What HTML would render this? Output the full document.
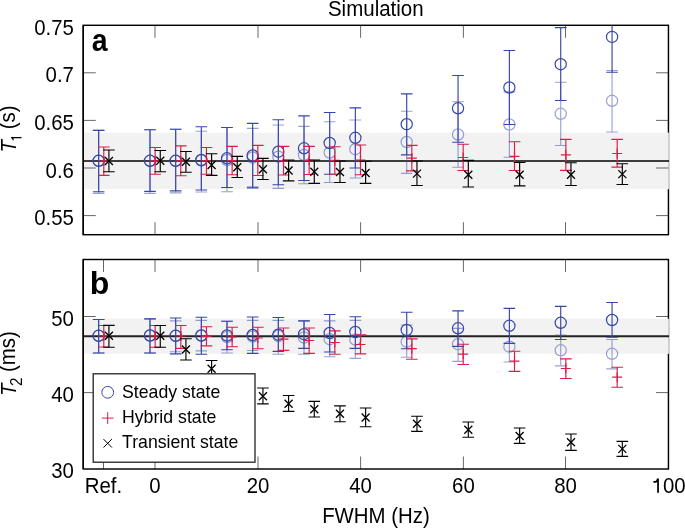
<!DOCTYPE html>
<html><head><meta charset="utf-8"><title>Simulation</title>
<style>
html,body{margin:0;padding:0;background:#fff;}
body{width:685px;height:528px;overflow:hidden;}
svg{display:block;will-change:transform;font-family:"Liberation Sans",sans-serif;}
</style></head>
<body>
<svg width="685" height="528" viewBox="0 0 685 528">
<rect width="685" height="528" fill="#fff"/>
<defs><clipPath id="ca"><rect x="83.25" y="25.3" width="585.2" height="209.39999999999998"/></clipPath><clipPath id="cb"><rect x="83.25" y="259.5" width="585.2" height="209.5"/></clipPath></defs>
<rect x="83.25" y="25.3" width="585.2" height="209.39999999999998" fill="none" stroke="#000" stroke-width="1.45"/>
<rect x="83.25" y="132.6" width="585.6" height="56.599999999999994" fill="#f2f2f2"/>
<path d="M83.25 161.0H669.0500000000001" stroke="#000" stroke-width="1.6"/>
<path d="M155 25.3v12.5M155 234.7v-12.5M258 25.3v12.5M258 234.7v-12.5M360.6 25.3v12.5M360.6 234.7v-12.5M463.4 25.3v12.5M463.4 234.7v-12.5M565.5 25.3v12.5M565.5 234.7v-12.5M83.25 72.8h12.5M668.45 72.8h-12.5M83.25 120.4h12.5M668.45 120.4h-12.5M83.25 168h12.5M668.45 168h-12.5M83.25 215.6h12.5M668.45 215.6h-12.5" stroke="#000" stroke-width="0.6" fill="none"/>
<g clip-path="url(#ca)"><g opacity="0.5"><path d="M98.66 130.3V193.3M92.86 130.3H104.46M92.86 193.3H104.46" stroke="#3646a8" stroke-width="1.15" fill="none"/><circle cx="98.66" cy="160.8" r="5.6" stroke="#3646a8" stroke-width="1.2" fill="none"/></g><g opacity="0.5"><path d="M150 129.7V193.3M144.2 129.7H155.8M144.2 193.3H155.8" stroke="#3646a8" stroke-width="1.15" fill="none"/><circle cx="150" cy="160.8" r="5.6" stroke="#3646a8" stroke-width="1.2" fill="none"/></g><g opacity="0.5"><path d="M175.67 129.2V192.8M169.87 129.2H181.47M169.87 192.8H181.47" stroke="#3646a8" stroke-width="1.15" fill="none"/><circle cx="175.67" cy="160.8" r="5.6" stroke="#3646a8" stroke-width="1.2" fill="none"/></g><g opacity="0.5"><path d="M201.34 131.2V192M195.54 131.2H207.14M195.54 192H207.14" stroke="#3646a8" stroke-width="1.15" fill="none"/><circle cx="201.34" cy="160.5" r="5.6" stroke="#3646a8" stroke-width="1.2" fill="none"/></g><g opacity="0.5"><path d="M227.01 127.5V191.7M221.21 127.5H232.81M221.21 191.7H232.81" stroke="#3646a8" stroke-width="1.15" fill="none"/><circle cx="227.01" cy="160" r="5.6" stroke="#3646a8" stroke-width="1.2" fill="none"/></g><g opacity="0.5"><path d="M252.68 128.3V186.7M246.88 128.3H258.48M246.88 186.7H258.48" stroke="#3646a8" stroke-width="1.15" fill="none"/><circle cx="252.68" cy="157.5" r="5.6" stroke="#3646a8" stroke-width="1.2" fill="none"/></g><g opacity="0.5"><path d="M278.35 125V188.3M272.55 125H284.15M272.55 188.3H284.15" stroke="#3646a8" stroke-width="1.15" fill="none"/><circle cx="278.35" cy="156.7" r="5.6" stroke="#3646a8" stroke-width="1.2" fill="none"/></g><g opacity="0.5"><path d="M304.02 126.3V183.7M298.22 126.3H309.82M298.22 183.7H309.82" stroke="#3646a8" stroke-width="1.15" fill="none"/><circle cx="304.02" cy="155" r="5.6" stroke="#3646a8" stroke-width="1.2" fill="none"/></g><g opacity="0.5"><path d="M329.69 121.7V182.5M323.89 121.7H335.49M323.89 182.5H335.49" stroke="#3646a8" stroke-width="1.15" fill="none"/><circle cx="329.69" cy="152.5" r="5.6" stroke="#3646a8" stroke-width="1.2" fill="none"/></g><g opacity="0.5"><path d="M355.36 120V178M349.56 120H361.16M349.56 178H361.16" stroke="#3646a8" stroke-width="1.15" fill="none"/><circle cx="355.36" cy="149.2" r="5.6" stroke="#3646a8" stroke-width="1.2" fill="none"/></g><g opacity="0.5"><path d="M406.7 111.2V173.4M400.9 111.2H412.5M400.9 173.4H412.5" stroke="#3646a8" stroke-width="1.15" fill="none"/><circle cx="406.7" cy="142" r="5.6" stroke="#3646a8" stroke-width="1.2" fill="none"/></g><g opacity="0.5"><path d="M458.04 101.7V167.2M452.24 101.7H463.84M452.24 167.2H463.84" stroke="#3646a8" stroke-width="1.15" fill="none"/><circle cx="458.04" cy="134.5" r="5.6" stroke="#3646a8" stroke-width="1.2" fill="none"/></g><g opacity="0.5"><path d="M509.38 91.8V157.2M503.58 91.8H515.18M503.58 157.2H515.18" stroke="#3646a8" stroke-width="1.15" fill="none"/><circle cx="509.38" cy="124.5" r="5.6" stroke="#3646a8" stroke-width="1.2" fill="none"/></g><g opacity="0.5"><path d="M560.72 82.2V145.5M554.92 82.2H566.52M554.92 145.5H566.52" stroke="#3646a8" stroke-width="1.15" fill="none"/><circle cx="560.72" cy="113.8" r="5.6" stroke="#3646a8" stroke-width="1.2" fill="none"/></g><g opacity="0.5"><path d="M612.06 70.5V132M606.26 70.5H617.86M606.26 132H617.86" stroke="#3646a8" stroke-width="1.15" fill="none"/><circle cx="612.06" cy="100.8" r="5.6" stroke="#3646a8" stroke-width="1.2" fill="none"/></g><path d="M98.66 130.3V191.7M92.86 130.3H104.46M92.86 191.7H104.46" stroke="#3646a8" stroke-width="1.15" fill="none"/><circle cx="98.66" cy="160.8" r="5.6" stroke="#3646a8" stroke-width="1.2" fill="none"/><path d="M150 129.7V191.3M144.2 129.7H155.8M144.2 191.3H155.8" stroke="#3646a8" stroke-width="1.15" fill="none"/><circle cx="150" cy="160.8" r="5.6" stroke="#3646a8" stroke-width="1.2" fill="none"/><path d="M175.67 129.2V190.8M169.87 129.2H181.47M169.87 190.8H181.47" stroke="#3646a8" stroke-width="1.15" fill="none"/><circle cx="175.67" cy="160.8" r="5.6" stroke="#3646a8" stroke-width="1.2" fill="none"/><path d="M201.34 126.7V190M195.54 126.7H207.14M195.54 190H207.14" stroke="#3646a8" stroke-width="1.15" fill="none"/><circle cx="201.34" cy="160" r="5.6" stroke="#3646a8" stroke-width="1.2" fill="none"/><path d="M227.01 127.5V187.5M221.21 127.5H232.81M221.21 187.5H232.81" stroke="#3646a8" stroke-width="1.15" fill="none"/><circle cx="227.01" cy="158.3" r="5.6" stroke="#3646a8" stroke-width="1.2" fill="none"/><path d="M252.68 123.3V187.8M246.88 123.3H258.48M246.88 187.8H258.48" stroke="#3646a8" stroke-width="1.15" fill="none"/><circle cx="252.68" cy="155.5" r="5.6" stroke="#3646a8" stroke-width="1.2" fill="none"/><path d="M278.35 119.7V184.7M272.55 119.7H284.15M272.55 184.7H284.15" stroke="#3646a8" stroke-width="1.15" fill="none"/><circle cx="278.35" cy="151.7" r="5.6" stroke="#3646a8" stroke-width="1.2" fill="none"/><path d="M304.02 115.8V180.5M298.22 115.8H309.82M298.22 180.5H309.82" stroke="#3646a8" stroke-width="1.15" fill="none"/><circle cx="304.02" cy="148.3" r="5.6" stroke="#3646a8" stroke-width="1.2" fill="none"/><path d="M329.69 112.5V174.2M323.89 112.5H335.49M323.89 174.2H335.49" stroke="#3646a8" stroke-width="1.15" fill="none"/><circle cx="329.69" cy="143" r="5.6" stroke="#3646a8" stroke-width="1.2" fill="none"/><path d="M355.36 107.8V168M349.56 107.8H361.16M349.56 168H361.16" stroke="#3646a8" stroke-width="1.15" fill="none"/><circle cx="355.36" cy="137.8" r="5.6" stroke="#3646a8" stroke-width="1.2" fill="none"/><path d="M406.7 93.8V154.9M400.9 93.8H412.5M400.9 154.9H412.5" stroke="#3646a8" stroke-width="1.15" fill="none"/><circle cx="406.7" cy="124.2" r="5.6" stroke="#3646a8" stroke-width="1.2" fill="none"/><path d="M458.04 75.5V142.2M452.24 75.5H463.84M452.24 142.2H463.84" stroke="#3646a8" stroke-width="1.15" fill="none"/><circle cx="458.04" cy="108.3" r="5.6" stroke="#3646a8" stroke-width="1.2" fill="none"/><path d="M509.38 50.5V124.5M503.58 50.5H515.18M503.58 124.5H515.18" stroke="#3646a8" stroke-width="1.15" fill="none"/><circle cx="509.38" cy="87.5" r="5.6" stroke="#3646a8" stroke-width="1.2" fill="none"/><path d="M560.72 27.6V100.5M554.92 27.6H566.52M554.92 100.5H566.52" stroke="#3646a8" stroke-width="1.15" fill="none"/><circle cx="560.72" cy="64.2" r="5.6" stroke="#3646a8" stroke-width="1.2" fill="none"/><path d="M612.06 1.6V72.2M606.26 1.6H617.86M606.26 72.2H617.86" stroke="#3646a8" stroke-width="1.15" fill="none"/><circle cx="612.06" cy="36.9" r="5.6" stroke="#3646a8" stroke-width="1.2" fill="none"/><path d="M103.79 147V175.3M97.99 147H109.59M97.99 175.3H109.59" stroke="#d91e4a" stroke-width="1.15" fill="none"/><path d="M98.79 161H108.79M103.79 156V166" stroke="#d91e4a" stroke-width="1.2" fill="none"/><path d="M155.13 147.5V174.2M149.33 147.5H160.93M149.33 174.2H160.93" stroke="#d91e4a" stroke-width="1.15" fill="none"/><path d="M150.13 160.8H160.13M155.13 155.8V165.8" stroke="#d91e4a" stroke-width="1.2" fill="none"/><path d="M180.8 145.8V175.7M175 145.8H186.6M175 175.7H186.6" stroke="#d91e4a" stroke-width="1.15" fill="none"/><path d="M175.8 160.8H185.8M180.8 155.8V165.8" stroke="#d91e4a" stroke-width="1.2" fill="none"/><path d="M206.47 147.5V174.2M200.67 147.5H212.27M200.67 174.2H212.27" stroke="#d91e4a" stroke-width="1.15" fill="none"/><path d="M201.47 160.8H211.47M206.47 155.8V165.8" stroke="#d91e4a" stroke-width="1.2" fill="none"/><path d="M232.14 146.3V174.7M226.34 146.3H237.94M226.34 174.7H237.94" stroke="#d91e4a" stroke-width="1.15" fill="none"/><path d="M227.14 160.5H237.14M232.14 155.5V165.5" stroke="#d91e4a" stroke-width="1.2" fill="none"/><path d="M257.81 145.3V175.5M252.01 145.3H263.61M252.01 175.5H263.61" stroke="#d91e4a" stroke-width="1.15" fill="none"/><path d="M252.81 160.5H262.81M257.81 155.5V165.5" stroke="#d91e4a" stroke-width="1.2" fill="none"/><path d="M283.48 146.3V175M277.68 146.3H289.28M277.68 175H289.28" stroke="#d91e4a" stroke-width="1.15" fill="none"/><path d="M278.48 160.7H288.48M283.48 155.7V165.7" stroke="#d91e4a" stroke-width="1.2" fill="none"/><path d="M309.15 146.3V174.5M303.35 146.3H314.95M303.35 174.5H314.95" stroke="#d91e4a" stroke-width="1.15" fill="none"/><path d="M304.15 160.4H314.15M309.15 155.4V165.4" stroke="#d91e4a" stroke-width="1.2" fill="none"/><path d="M334.82 146.7V174.2M329.02 146.7H340.62M329.02 174.2H340.62" stroke="#d91e4a" stroke-width="1.15" fill="none"/><path d="M329.82 160.4H339.82M334.82 155.4V165.4" stroke="#d91e4a" stroke-width="1.2" fill="none"/><path d="M360.49 145V174.7M354.69 145H366.29M354.69 174.7H366.29" stroke="#d91e4a" stroke-width="1.15" fill="none"/><path d="M355.49 160H365.49M360.49 155V165" stroke="#d91e4a" stroke-width="1.2" fill="none"/><path d="M411.83 145.3V170.9M406.03 145.3H417.63M406.03 170.9H417.63" stroke="#d91e4a" stroke-width="1.15" fill="none"/><path d="M406.83 158.2H416.83M411.83 153.2V163.2" stroke="#d91e4a" stroke-width="1.2" fill="none"/><path d="M463.17 144.2V170.5M457.37 144.2H468.97M457.37 170.5H468.97" stroke="#d91e4a" stroke-width="1.15" fill="none"/><path d="M458.17 157.5H468.17M463.17 152.5V162.5" stroke="#d91e4a" stroke-width="1.2" fill="none"/><path d="M514.51 141.7V170.5M508.71 141.7H520.31M508.71 170.5H520.31" stroke="#d91e4a" stroke-width="1.15" fill="none"/><path d="M509.51 156.3H519.51M514.51 151.3V161.3" stroke="#d91e4a" stroke-width="1.2" fill="none"/><path d="M565.85 139.3V170.4M560.05 139.3H571.65M560.05 170.4H571.65" stroke="#d91e4a" stroke-width="1.15" fill="none"/><path d="M560.85 154.8H570.85M565.85 149.8V159.8" stroke="#d91e4a" stroke-width="1.2" fill="none"/><path d="M617.19 139.3V167.1M611.39 139.3H622.99M611.39 167.1H622.99" stroke="#d91e4a" stroke-width="1.15" fill="none"/><path d="M612.19 153.5H622.19M617.19 148.5V158.5" stroke="#d91e4a" stroke-width="1.2" fill="none"/><path d="M108.92 150V171.7M103.12 150H114.72M103.12 171.7H114.72" stroke="#000" stroke-width="1.15" fill="none"/><path d="M104.92 156.95L112.92 164.95M104.92 164.95L112.92 156.95" stroke="#000" stroke-width="1.3" fill="none"/><path d="M160.26 150.5V171.7M154.46 150.5H166.06M154.46 171.7H166.06" stroke="#000" stroke-width="1.15" fill="none"/><path d="M156.26 156.8L164.26 164.8M156.26 164.8L164.26 156.8" stroke="#000" stroke-width="1.3" fill="none"/><path d="M185.93 151.5V172.2M180.13 151.5H191.73M180.13 172.2H191.73" stroke="#000" stroke-width="1.15" fill="none"/><path d="M181.93 157.8L189.93 165.8M181.93 165.8L189.93 157.8" stroke="#000" stroke-width="1.3" fill="none"/><path d="M211.6 153.7V175.3M205.8 153.7H217.4M205.8 175.3H217.4" stroke="#000" stroke-width="1.15" fill="none"/><path d="M207.6 161L215.6 169M207.6 169L215.6 161" stroke="#000" stroke-width="1.3" fill="none"/><path d="M237.27 156.3V177.5M231.47 156.3H243.07M231.47 177.5H243.07" stroke="#000" stroke-width="1.15" fill="none"/><path d="M233.27 163.2L241.27 171.2M233.27 171.2L241.27 163.2" stroke="#000" stroke-width="1.3" fill="none"/><path d="M262.94 158.3V179.5M257.14 158.3H268.74M257.14 179.5H268.74" stroke="#000" stroke-width="1.15" fill="none"/><path d="M258.94 165.2L266.94 173.2M258.94 173.2L266.94 165.2" stroke="#000" stroke-width="1.3" fill="none"/><path d="M288.61 160V180.8M282.81 160H294.41M282.81 180.8H294.41" stroke="#000" stroke-width="1.15" fill="none"/><path d="M284.61 166.5L292.61 174.5M284.61 174.5L292.61 166.5" stroke="#000" stroke-width="1.3" fill="none"/><path d="M314.28 160V183.3M308.48 160H320.08M308.48 183.3H320.08" stroke="#000" stroke-width="1.15" fill="none"/><path d="M310.28 167.7L318.28 175.7M310.28 175.7L318.28 167.7" stroke="#000" stroke-width="1.3" fill="none"/><path d="M339.95 161V182.5M334.15 161H345.75M334.15 182.5H345.75" stroke="#000" stroke-width="1.15" fill="none"/><path d="M335.95 168L343.95 176M335.95 176L343.95 168" stroke="#000" stroke-width="1.3" fill="none"/><path d="M365.62 161.2V183.3M359.82 161.2H371.42M359.82 183.3H371.42" stroke="#000" stroke-width="1.15" fill="none"/><path d="M361.62 169L369.62 177M361.62 177L369.62 169" stroke="#000" stroke-width="1.3" fill="none"/><path d="M416.96 161V185.5M411.16 161H422.76M411.16 185.5H422.76" stroke="#000" stroke-width="1.15" fill="none"/><path d="M412.96 169.6L420.96 177.6M412.96 177.6L420.96 169.6" stroke="#000" stroke-width="1.3" fill="none"/><path d="M468.3 160.3V187M462.5 160.3H474.1M462.5 187H474.1" stroke="#000" stroke-width="1.15" fill="none"/><path d="M464.3 170.7L472.3 178.7M464.3 178.7L472.3 170.7" stroke="#000" stroke-width="1.3" fill="none"/><path d="M519.64 162.5V185.8M513.84 162.5H525.44M513.84 185.8H525.44" stroke="#000" stroke-width="1.15" fill="none"/><path d="M515.64 170.7L523.64 178.7M515.64 178.7L523.64 170.7" stroke="#000" stroke-width="1.3" fill="none"/><path d="M570.98 162.7V185.5M565.18 162.7H576.78M565.18 185.5H576.78" stroke="#000" stroke-width="1.15" fill="none"/><path d="M566.98 170.7L574.98 178.7M566.98 178.7L574.98 170.7" stroke="#000" stroke-width="1.3" fill="none"/><path d="M622.32 163.7V184.5M616.52 163.7H628.12M616.52 184.5H628.12" stroke="#000" stroke-width="1.15" fill="none"/><path d="M618.32 170.1L626.32 178.1M618.32 178.1L626.32 170.1" stroke="#000" stroke-width="1.3" fill="none"/></g>
<path d="M83.25 25.3V234.7" stroke="#000" stroke-width="1.45"/>
<rect x="83.25" y="259.5" width="585.2" height="209.5" fill="none" stroke="#000" stroke-width="1.45"/>
<rect x="83.25" y="318.7" width="585.6" height="35.10000000000002" fill="#f2f2f2"/>
<path d="M83.25 336.25H669.0500000000001" stroke="#222" stroke-width="1.8"/>
<path d="M103.5 259.5v12.5M103.5 469v-12.5M155 259.5v12.5M155 469v-12.5M258 259.5v12.5M258 469v-12.5M360.6 259.5v12.5M360.6 469v-12.5M463.4 259.5v12.5M463.4 469v-12.5M565.5 259.5v12.5M565.5 469v-12.5M83.25 316.5h12.5M668.45 316.5h-12.5M83.25 392.6h12.5M668.45 392.6h-12.5" stroke="#000" stroke-width="0.6" fill="none"/>
<g clip-path="url(#cb)"><g opacity="0.5"><path d="M98.66 319.5V353M92.86 319.5H104.46M92.86 353H104.46" stroke="#3646a8" stroke-width="1.15" fill="none"/><circle cx="98.66" cy="335.8" r="5.6" stroke="#3646a8" stroke-width="1.2" fill="none"/></g><g opacity="0.5"><path d="M150 318.8V353M144.2 318.8H155.8M144.2 353H155.8" stroke="#3646a8" stroke-width="1.15" fill="none"/><circle cx="150" cy="335.5" r="5.6" stroke="#3646a8" stroke-width="1.2" fill="none"/></g><g opacity="0.5"><path d="M175.67 320.8V351.7M169.87 320.8H181.47M169.87 351.7H181.47" stroke="#3646a8" stroke-width="1.15" fill="none"/><circle cx="175.67" cy="335.8" r="5.6" stroke="#3646a8" stroke-width="1.2" fill="none"/></g><g opacity="0.5"><path d="M201.34 320.3V350.8M195.54 320.3H207.14M195.54 350.8H207.14" stroke="#3646a8" stroke-width="1.15" fill="none"/><circle cx="201.34" cy="335.5" r="5.6" stroke="#3646a8" stroke-width="1.2" fill="none"/></g><g opacity="0.5"><path d="M227.01 321.2V353M221.21 321.2H232.81M221.21 353H232.81" stroke="#3646a8" stroke-width="1.15" fill="none"/><circle cx="227.01" cy="337.1" r="5.6" stroke="#3646a8" stroke-width="1.2" fill="none"/></g><g opacity="0.5"><path d="M252.68 320.3V350.5M246.88 320.3H258.48M246.88 350.5H258.48" stroke="#3646a8" stroke-width="1.15" fill="none"/><circle cx="252.68" cy="336.5" r="5.6" stroke="#3646a8" stroke-width="1.2" fill="none"/></g><g opacity="0.5"><path d="M278.35 320.3V354.2M272.55 320.3H284.15M272.55 354.2H284.15" stroke="#3646a8" stroke-width="1.15" fill="none"/><circle cx="278.35" cy="336" r="5.6" stroke="#3646a8" stroke-width="1.2" fill="none"/></g><g opacity="0.5"><path d="M304.02 320.8V354.2M298.22 320.8H309.82M298.22 354.2H309.82" stroke="#3646a8" stroke-width="1.15" fill="none"/><circle cx="304.02" cy="337.5" r="5.6" stroke="#3646a8" stroke-width="1.2" fill="none"/></g><g opacity="0.5"><path d="M329.69 320.8V356.7M323.89 320.8H335.49M323.89 356.7H335.49" stroke="#3646a8" stroke-width="1.15" fill="none"/><circle cx="329.69" cy="339.2" r="5.6" stroke="#3646a8" stroke-width="1.2" fill="none"/></g><g opacity="0.5"><path d="M355.36 320.3V358.3M349.56 320.3H361.16M349.56 358.3H361.16" stroke="#3646a8" stroke-width="1.15" fill="none"/><circle cx="355.36" cy="339.5" r="5.6" stroke="#3646a8" stroke-width="1.2" fill="none"/></g><g opacity="0.5"><path d="M406.7 325V357.2M400.9 325H412.5M400.9 357.2H412.5" stroke="#3646a8" stroke-width="1.15" fill="none"/><circle cx="406.7" cy="341.7" r="5.6" stroke="#3646a8" stroke-width="1.2" fill="none"/></g><g opacity="0.5"><path d="M458.04 328.3V361.3M452.24 328.3H463.84M452.24 361.3H463.84" stroke="#3646a8" stroke-width="1.15" fill="none"/><circle cx="458.04" cy="344.2" r="5.6" stroke="#3646a8" stroke-width="1.2" fill="none"/></g><g opacity="0.5"><path d="M509.38 331.4V362M503.58 362H515.18" stroke="#3646a8" stroke-width="1.15" fill="none"/><circle cx="509.38" cy="346.7" r="5.6" stroke="#3646a8" stroke-width="1.2" fill="none"/></g><g opacity="0.5"><path d="M560.72 335V365.8M554.92 335H566.52M554.92 365.8H566.52" stroke="#3646a8" stroke-width="1.15" fill="none"/><circle cx="560.72" cy="350.3" r="5.6" stroke="#3646a8" stroke-width="1.2" fill="none"/></g><g opacity="0.5"><path d="M612.06 339.5V368.8M606.26 339.5H617.86M606.26 368.8H617.86" stroke="#3646a8" stroke-width="1.15" fill="none"/><circle cx="612.06" cy="353.8" r="5.6" stroke="#3646a8" stroke-width="1.2" fill="none"/></g><path d="M98.66 319.5V353M92.86 319.5H104.46M92.86 353H104.46" stroke="#3646a8" stroke-width="1.15" fill="none"/><circle cx="98.66" cy="335.8" r="5.6" stroke="#3646a8" stroke-width="1.2" fill="none"/><path d="M150 318.8V353M144.2 318.8H155.8M144.2 353H155.8" stroke="#3646a8" stroke-width="1.15" fill="none"/><circle cx="150" cy="335.5" r="5.6" stroke="#3646a8" stroke-width="1.2" fill="none"/><path d="M175.67 318V353.8M169.87 318H181.47M169.87 353.8H181.47" stroke="#3646a8" stroke-width="1.15" fill="none"/><circle cx="175.67" cy="335.8" r="5.6" stroke="#3646a8" stroke-width="1.2" fill="none"/><path d="M201.34 317.2V354.2M195.54 317.2H207.14M195.54 354.2H207.14" stroke="#3646a8" stroke-width="1.15" fill="none"/><circle cx="201.34" cy="335.5" r="5.6" stroke="#3646a8" stroke-width="1.2" fill="none"/><path d="M227.01 321.2V349.7M221.21 321.2H232.81M221.21 349.7H232.81" stroke="#3646a8" stroke-width="1.15" fill="none"/><circle cx="227.01" cy="335.5" r="5.6" stroke="#3646a8" stroke-width="1.2" fill="none"/><path d="M252.68 317V353.3M246.88 317H258.48M246.88 353.3H258.48" stroke="#3646a8" stroke-width="1.15" fill="none"/><circle cx="252.68" cy="335" r="5.6" stroke="#3646a8" stroke-width="1.2" fill="none"/><path d="M278.35 317.5V351.3M272.55 317.5H284.15M272.55 351.3H284.15" stroke="#3646a8" stroke-width="1.15" fill="none"/><circle cx="278.35" cy="334.7" r="5.6" stroke="#3646a8" stroke-width="1.2" fill="none"/><path d="M304.02 320.8V348.3M298.22 320.8H309.82M298.22 348.3H309.82" stroke="#3646a8" stroke-width="1.15" fill="none"/><circle cx="304.02" cy="334.2" r="5.6" stroke="#3646a8" stroke-width="1.2" fill="none"/><path d="M329.69 314.5V352M323.89 314.5H335.49M323.89 352H335.49" stroke="#3646a8" stroke-width="1.15" fill="none"/><circle cx="329.69" cy="333" r="5.6" stroke="#3646a8" stroke-width="1.2" fill="none"/><path d="M355.36 316.7V348.3M349.56 316.7H361.16M349.56 348.3H361.16" stroke="#3646a8" stroke-width="1.15" fill="none"/><circle cx="355.36" cy="332" r="5.6" stroke="#3646a8" stroke-width="1.2" fill="none"/><path d="M406.7 312.2V348.7M400.9 312.2H412.5M400.9 348.7H412.5" stroke="#3646a8" stroke-width="1.15" fill="none"/><circle cx="406.7" cy="330" r="5.6" stroke="#3646a8" stroke-width="1.2" fill="none"/><path d="M458.04 310.8V346.3M452.24 310.8H463.84M452.24 346.3H463.84" stroke="#3646a8" stroke-width="1.15" fill="none"/><circle cx="458.04" cy="328.3" r="5.6" stroke="#3646a8" stroke-width="1.2" fill="none"/><path d="M509.38 308.3V343.3M503.58 308.3H515.18M503.58 343.3H515.18" stroke="#3646a8" stroke-width="1.15" fill="none"/><circle cx="509.38" cy="325.8" r="5.6" stroke="#3646a8" stroke-width="1.2" fill="none"/><path d="M560.72 306.3V339.5M554.92 306.3H566.52M554.92 339.5H566.52" stroke="#3646a8" stroke-width="1.15" fill="none"/><circle cx="560.72" cy="322.8" r="5.6" stroke="#3646a8" stroke-width="1.2" fill="none"/><path d="M612.06 302.5V337.2M606.26 302.5H617.86M606.26 337.2H617.86" stroke="#3646a8" stroke-width="1.15" fill="none"/><circle cx="612.06" cy="320" r="5.6" stroke="#3646a8" stroke-width="1.2" fill="none"/><path d="M103.79 325.5V347M97.99 325.5H109.59M97.99 347H109.59" stroke="#d91e4a" stroke-width="1.15" fill="none"/><path d="M98.79 335.8H108.79M103.79 330.8V340.8" stroke="#d91e4a" stroke-width="1.2" fill="none"/><path d="M155.13 325.5V347.2M149.33 325.5H160.93M149.33 347.2H160.93" stroke="#d91e4a" stroke-width="1.15" fill="none"/><path d="M150.13 335.8H160.13M155.13 330.8V340.8" stroke="#d91e4a" stroke-width="1.2" fill="none"/><path d="M180.8 325.5V348.3M175 325.5H186.6M175 348.3H186.6" stroke="#d91e4a" stroke-width="1.15" fill="none"/><path d="M175.8 336H185.8M180.8 331V341" stroke="#d91e4a" stroke-width="1.2" fill="none"/><path d="M206.47 326.7V345.8M200.67 326.7H212.27M200.67 345.8H212.27" stroke="#d91e4a" stroke-width="1.15" fill="none"/><path d="M201.47 336.3H211.47M206.47 331.3V341.3" stroke="#d91e4a" stroke-width="1.2" fill="none"/><path d="M232.14 327.2V346.7M226.34 327.2H237.94M226.34 346.7H237.94" stroke="#d91e4a" stroke-width="1.15" fill="none"/><path d="M227.14 337H237.14M232.14 332V342" stroke="#d91e4a" stroke-width="1.2" fill="none"/><path d="M257.81 327.2V348.7M252.01 327.2H263.61M252.01 348.7H263.61" stroke="#d91e4a" stroke-width="1.15" fill="none"/><path d="M252.81 338H262.81M257.81 333V343" stroke="#d91e4a" stroke-width="1.2" fill="none"/><path d="M283.48 328V350.3M277.68 328H289.28M277.68 350.3H289.28" stroke="#d91e4a" stroke-width="1.15" fill="none"/><path d="M278.48 339.2H288.48M283.48 334.2V344.2" stroke="#d91e4a" stroke-width="1.2" fill="none"/><path d="M309.15 328V353.3M303.35 328H314.95M303.35 353.3H314.95" stroke="#d91e4a" stroke-width="1.15" fill="none"/><path d="M304.15 340.5H314.15M309.15 335.5V345.5" stroke="#d91e4a" stroke-width="1.2" fill="none"/><path d="M334.82 330.8V354.2M329.02 330.8H340.62M329.02 354.2H340.62" stroke="#d91e4a" stroke-width="1.15" fill="none"/><path d="M329.82 342.5H339.82M334.82 337.5V347.5" stroke="#d91e4a" stroke-width="1.2" fill="none"/><path d="M360.49 334.7V353.8M354.69 334.7H366.29M354.69 353.8H366.29" stroke="#d91e4a" stroke-width="1.15" fill="none"/><path d="M355.49 344.5H365.49M360.49 339.5V349.5" stroke="#d91e4a" stroke-width="1.2" fill="none"/><path d="M411.83 338.8V359.2M406.03 338.8H417.63M406.03 359.2H417.63" stroke="#d91e4a" stroke-width="1.15" fill="none"/><path d="M406.83 348.7H416.83M411.83 343.7V353.7" stroke="#d91e4a" stroke-width="1.2" fill="none"/><path d="M463.17 344.2V364.5M457.37 344.2H468.97M457.37 364.5H468.97" stroke="#d91e4a" stroke-width="1.15" fill="none"/><path d="M458.17 354.2H468.17M463.17 349.2V359.2" stroke="#d91e4a" stroke-width="1.2" fill="none"/><path d="M514.51 351.2V371.3M508.71 351.2H520.31M508.71 371.3H520.31" stroke="#d91e4a" stroke-width="1.15" fill="none"/><path d="M509.51 361.2H519.51M514.51 356.2V366.2" stroke="#d91e4a" stroke-width="1.2" fill="none"/><path d="M565.85 358.8V378.5M560.05 358.8H571.65M560.05 378.5H571.65" stroke="#d91e4a" stroke-width="1.15" fill="none"/><path d="M560.85 368.5H570.85M565.85 363.5V373.5" stroke="#d91e4a" stroke-width="1.2" fill="none"/><path d="M617.19 367.2V387.2M611.39 367.2H622.99M611.39 387.2H622.99" stroke="#d91e4a" stroke-width="1.15" fill="none"/><path d="M612.19 377.2H622.19M617.19 372.2V382.2" stroke="#d91e4a" stroke-width="1.2" fill="none"/><path d="M108.92 325.3V347.2M103.12 325.3H114.72M103.12 347.2H114.72" stroke="#000" stroke-width="1.15" fill="none"/><path d="M104.92 331.8L112.92 339.8M104.92 339.8L112.92 331.8" stroke="#000" stroke-width="1.3" fill="none"/><path d="M160.26 325.5V347.2M154.46 325.5H166.06M154.46 347.2H166.06" stroke="#000" stroke-width="1.15" fill="none"/><path d="M156.26 331.8L164.26 339.8M156.26 339.8L164.26 331.8" stroke="#000" stroke-width="1.3" fill="none"/><path d="M185.93 338.7V360M180.13 338.7H191.73M180.13 360H191.73" stroke="#000" stroke-width="1.15" fill="none"/><path d="M181.93 345.5L189.93 353.5M181.93 353.5L189.93 345.5" stroke="#000" stroke-width="1.3" fill="none"/><path d="M211.6 360.5V376.5M205.8 360.5H217.4M205.8 376.5H217.4" stroke="#000" stroke-width="1.15" fill="none"/><path d="M207.6 364.7L215.6 372.7M207.6 372.7L215.6 364.7" stroke="#000" stroke-width="1.3" fill="none"/><path d="M237.27 375V391M231.47 375H243.07M231.47 391H243.07" stroke="#000" stroke-width="1.15" fill="none"/><path d="M233.27 379L241.27 387M233.27 387L241.27 379" stroke="#000" stroke-width="1.3" fill="none"/><path d="M262.94 388V403.8M257.14 388H268.74M257.14 403.8H268.74" stroke="#000" stroke-width="1.15" fill="none"/><path d="M258.94 392.2L266.94 400.2M258.94 400.2L266.94 392.2" stroke="#000" stroke-width="1.3" fill="none"/><path d="M288.61 395.5V411.3M282.81 395.5H294.41M282.81 411.3H294.41" stroke="#000" stroke-width="1.15" fill="none"/><path d="M284.61 399.8L292.61 407.8M284.61 407.8L292.61 399.8" stroke="#000" stroke-width="1.3" fill="none"/><path d="M314.28 401.3V417M308.48 401.3H320.08M308.48 417H320.08" stroke="#000" stroke-width="1.15" fill="none"/><path d="M310.28 405.2L318.28 413.2M310.28 413.2L318.28 405.2" stroke="#000" stroke-width="1.3" fill="none"/><path d="M339.95 405.8V421.7M334.15 405.8H345.75M334.15 421.7H345.75" stroke="#000" stroke-width="1.15" fill="none"/><path d="M335.95 409.8L343.95 417.8M335.95 417.8L343.95 409.8" stroke="#000" stroke-width="1.3" fill="none"/><path d="M365.62 408V426.7M359.82 408H371.42M359.82 426.7H371.42" stroke="#000" stroke-width="1.15" fill="none"/><path d="M361.62 413.5L369.62 421.5M361.62 421.5L369.62 413.5" stroke="#000" stroke-width="1.3" fill="none"/><path d="M416.96 416.2V431.3M411.16 416.2H422.76M411.16 431.3H422.76" stroke="#000" stroke-width="1.15" fill="none"/><path d="M412.96 419.8L420.96 427.8M412.96 427.8L420.96 419.8" stroke="#000" stroke-width="1.3" fill="none"/><path d="M468.3 422V437.2M462.5 422H474.1M462.5 437.2H474.1" stroke="#000" stroke-width="1.15" fill="none"/><path d="M464.3 425.7L472.3 433.7M464.3 433.7L472.3 425.7" stroke="#000" stroke-width="1.3" fill="none"/><path d="M519.64 428V443.4M513.84 428H525.44M513.84 443.4H525.44" stroke="#000" stroke-width="1.15" fill="none"/><path d="M515.64 432L523.64 440M515.64 440L523.64 432" stroke="#000" stroke-width="1.3" fill="none"/><path d="M570.98 434V450.4M565.18 434H576.78M565.18 450.4H576.78" stroke="#000" stroke-width="1.15" fill="none"/><path d="M566.98 438.2L574.98 446.2M566.98 446.2L574.98 438.2" stroke="#000" stroke-width="1.3" fill="none"/><path d="M622.32 441.4V456.3M616.52 441.4H628.12M616.52 456.3H628.12" stroke="#000" stroke-width="1.15" fill="none"/><path d="M618.32 444.9L626.32 452.9M618.32 452.9L626.32 444.9" stroke="#000" stroke-width="1.3" fill="none"/></g>
<path d="M83.25 259.5V469.0" stroke="#000" stroke-width="1.45"/>
<rect x="93.2" y="373.8" width="161.8" height="88.4" fill="#fff" stroke="#222" stroke-width="1.3"/>
<circle cx="107.7" cy="392.3" r="5.9" stroke="#3646a8" stroke-width="1" fill="none"/>
<path d="M101.8 418.1H113.6M107.7 412.2V424" stroke="#d91e4a" stroke-width="1" fill="none"/>
<path d="M103.5 439.1L111.9 447.5M103.5 447.5L111.9 439.1" stroke="#000" stroke-width="1" fill="none"/>
<text transform="translate(122 397.5) scale(1 1.04)" font-size="17.7">Steady state</text>
<text transform="translate(122 422.7) scale(1 1.04)" font-size="17.7">Hybrid state</text>
<text transform="translate(122 447.9) scale(1 1.04)" font-size="17.7">Transient state</text>
<text transform="translate(73.9 34.7) scale(1 1.04)" font-size="20.4" text-anchor="end">0.75</text>
<text transform="translate(73.9 82.3) scale(1 1.04)" font-size="20.4" text-anchor="end">0.7</text>
<text transform="translate(73.9 129.9) scale(1 1.04)" font-size="20.4" text-anchor="end">0.65</text>
<text transform="translate(73.9 177.5) scale(1 1.04)" font-size="20.4" text-anchor="end">0.6</text>
<text transform="translate(73.9 225.1) scale(1 1.04)" font-size="20.4" text-anchor="end">0.55</text>
<text transform="translate(73.9 326) scale(1 1.04)" font-size="20.4" text-anchor="end">50</text>
<text transform="translate(73.9 402.1) scale(1 1.04)" font-size="20.4" text-anchor="end">40</text>
<text transform="translate(73.9 478.2) scale(1 1.04)" font-size="20.4" text-anchor="end">30</text>
<text transform="translate(103.5 492.8) scale(1 1.04)" font-size="20.4" text-anchor="middle">Ref.</text>
<text transform="translate(155 492.8) scale(1 1.04)" font-size="20.4" text-anchor="middle">0</text>
<text transform="translate(258 492.8) scale(1 1.04)" font-size="20.4" text-anchor="middle">20</text>
<text transform="translate(360.6 492.8) scale(1 1.04)" font-size="20.4" text-anchor="middle">40</text>
<text transform="translate(463.4 492.8) scale(1 1.04)" font-size="20.4" text-anchor="middle">60</text>
<text transform="translate(565.5 492.8) scale(1 1.04)" font-size="20.4" text-anchor="middle">80</text>
<path d="M658.05 478.4V492.8M653.4 481.8H655.6Q657.6 481.4 657.7 478.5" stroke="#000" stroke-width="1.75" fill="none"/>
<text transform="translate(663 492.8) scale(1 1.04)" font-size="20.4">00</text>
<text transform="translate(375.9 523.1) scale(1 1.04)" font-size="20.4" text-anchor="middle">FWHM (Hz)</text>
<text transform="translate(375.8 15.5) scale(1 1.04)" font-size="20.5" text-anchor="middle">Simulation</text>
<g transform="translate(16.1 152.6) rotate(-90) scale(1 1.04)"><text x="0" y="0" font-size="20.4" font-style="italic">T</text></g>
<g transform="translate(15.3 152.6) rotate(-90) scale(1 1.04)"><path d="M14.9 6V-4.1M15.4 -3.6Q14 -2.0 12.4 -1.9" stroke="#000" stroke-width="1.3" fill="none"/><text x="23.3" y="0" font-size="20.4">(s)</text></g>
<g transform="translate(16.1 396.0) rotate(-90) scale(1 1.04)"><text x="0" y="0" font-size="20.4" font-style="italic">T</text></g>
<g transform="translate(15.3 396.0) rotate(-90) scale(1 1.04)"><text x="10.0" y="6.2" font-size="15.2">2</text><text x="24.0" y="0" font-size="20.4">(ms)</text></g>
<text transform="translate(99.75 51) scale(0.89 1)" x="0" y="0" text-anchor="middle" font-size="32" font-weight="bold">a</text>
<text x="89.8" y="293.6" font-size="32" font-weight="bold">b</text>
</svg>
</body></html>
